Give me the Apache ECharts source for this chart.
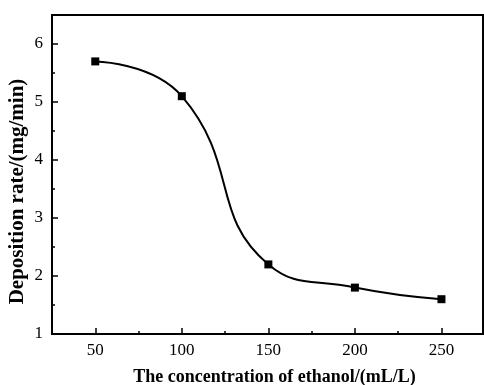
<!DOCTYPE html>
<html><head><meta charset="utf-8">
<script src="https://cdn.jsdelivr.net/npm/echarts@6/dist/echarts.min.js"></script>
<style>html,body{margin:0;padding:0;background:#fff}#c{width:484px;height:385px}</style>
</head><body><div id="c"></div>
<script>
const concentrations = [50, 100, 150, 200, 250];
const depositionRate = [5.7, 5.1, 2.2, 1.8, 1.6];
const xMajorTicks = [50, 100, 150, 200, 250];
const xMinorTicks = [75, 125, 175, 225];
const yMajorTicks = [1, 2, 3, 4, 5, 6];
const yMinorTicks = [1.5, 2.5, 3.5, 4.5, 5.5];

const font = 'Liberation Serif';
const chart = echarts.init(document.getElementById('c'));
const baseX = {
  type: 'value', min: 25, max: 274, position: 'bottom',
  splitLine: {show: false},
  axisLine: {show: true, onZero: false, lineStyle: {color: '#000', width: 2}}
};
const baseY = {
  type: 'value', min: 1, max: 6.5, position: 'left',
  splitLine: {show: false},
  axisLine: {show: true, onZero: false, lineStyle: {color: '#000', width: 2}}
};
chart.setOption({
  animation: false,
  grid: {left: 52, top: 15, right: 1, bottom: 51, show: true, borderColor: '#000', borderWidth: 2,
         containLabel: false, outerBoundsMode: 'none'},
  xAxis: [
    Object.assign({}, baseX, {
      name: 'The concentration of ethanol/(mL/L)', nameLocation: 'middle', nameGap: 34, nameMoveOverlap: false,
      nameTextStyle: {fontFamily: font, fontSize: 18, fontWeight: 'bold', color: '#000', padding: [0, 0, 0, 14]},
      axisTick: {show: true, inside: true, length: 6, customValues: xMajorTicks, lineStyle: {color: '#000', width: 1.5}},
      axisLabel: {customValues: xMajorTicks, fontFamily: font, fontSize: 17, color: '#000', margin: 8}
    }),
    Object.assign({}, baseX, {
      axisTick: {show: true, inside: true, length: 3, customValues: xMinorTicks, lineStyle: {color: '#000', width: 1.5}},
      axisLabel: {show: false}
    })
  ],
  yAxis: [
    Object.assign({}, baseY, {
      name: 'Deposition rate/(mg/min)', nameLocation: 'middle', nameGap: 24, nameMoveOverlap: false,
      nameTextStyle: {fontFamily: font, fontSize: 21, fontWeight: 'bold', color: '#000', padding: [0, 34, 0, 0]},
      axisTick: {show: true, inside: true, length: 6, customValues: yMajorTicks, lineStyle: {color: '#000', width: 1.5}},
      axisLabel: {customValues: yMajorTicks, fontFamily: font, fontSize: 17, color: '#000', margin: 9}
    }),
    Object.assign({}, baseY, {
      axisTick: {show: true, inside: true, length: 3, customValues: yMinorTicks, lineStyle: {color: '#000', width: 1.5}},
      axisLabel: {show: false}
    })
  ],
  series: [{
    type: 'line', xAxisIndex: 0, yAxisIndex: 0,
    data: concentrations.map((c, i) => [c, depositionRate[i]]),
    smooth: 0.5,
    symbol: 'rect', symbolSize: 8,
    itemStyle: {color: '#000'},
    lineStyle: {color: '#000', width: 2}
  }]
});
</script></body></html>
